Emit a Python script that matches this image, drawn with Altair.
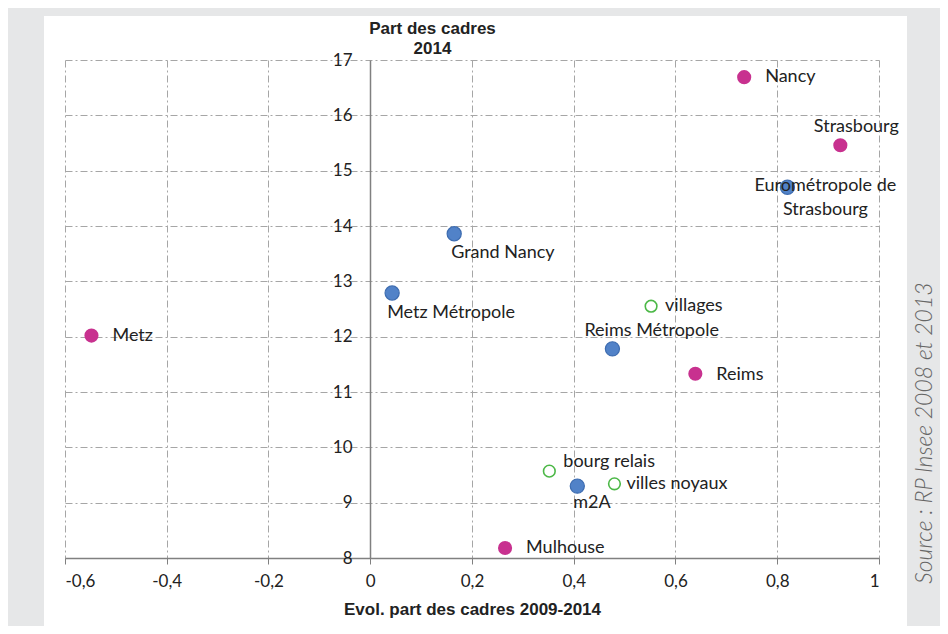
import altair as alt
import pandas as pd

# ---- data ----
names = ["Nancy", "Strasbourg", "Eurométropole de\nStrasbourg", "Grand Nancy",
         "Metz Métropole", "villages", "Metz", "Reims Métropole", "Reims",
         "bourg relais", "villes noyaux", "m2A", "Mulhouse"]
evol = [0.735, 0.924, 0.820, 0.165, 0.043, 0.552, -0.548, 0.476, 0.639,
        0.352, 0.480, 0.407, 0.265]
part = [16.69, 15.46, 14.70, 13.86, 12.79, 12.55, 12.02, 11.78, 11.33,
        9.57, 9.34, 9.30, 8.18]
groups = ["ville", "ville", "metropole", "metropole", "metropole", "espace",
          "ville", "metropole", "ville", "espace", "espace", "metropole", "ville"]
x_ticks = [-0.6, -0.4, -0.2, 0, 0.2, 0.4, 0.6, 0.8, 1]
y_ticks = [8, 9, 10, 11, 12, 13, 14, 15, 16, 17]
x_title = "Evol. part des cadres 2009-2014"
y_title = ["Part des cadres", "2014"]
source_text = "Source : RP Insee 2008 et 2013"

df = pd.DataFrame({"name": names, "evol": evol, "part": part, "group": groups})

# label placement (dx, dy, align)
placements = {
    "Nancy": (21, 0, "left"),
    "Strasbourg": (16, -18, "center"),
    "Eurométropole de\nStrasbourg": (38, -1, "center"),
    "Grand Nancy": (-3, 19, "left"),
    "Metz Métropole": (-5, 20, "left"),
    "villages": (14, 0, "left"),
    "Metz": (21, 0, "left"),
    "Reims Métropole": (-28, -18, "left"),
    "Reims": (21, 1, "left"),
    "bourg relais": (14, -9, "left"),
    "villes noyaux": (12, 0, "left"),
    "m2A": (-4, 17, "left"),
    "Mulhouse": (21, 0, "left"),
}

W, H = 814, 498
PAD = {"left": 57, "top": 52, "right": 61, "bottom": 68}
GRID = "#a6a6a6"
GREY_BG = "#e6e7e8"
LABEL_FONT = "Lato"

xenc = alt.X("evol:Q",
             scale=alt.Scale(domain=[-0.6, 1], nice=False, zero=False),
             axis=alt.Axis(values=x_ticks, grid=True, gridDash=[7, 3, 2, 3],
                           gridColor=GRID, gridWidth=1,
                           domainColor="#808080", domainWidth=1.5,
                           tickColor="#808080", tickSize=6, labelPadding=9,
                           labelExpr="replace(toString(datum.value), '.', ',')",
                           labelFont=LABEL_FONT, labelFontSize=17, labelColor="#222222",
                           title=x_title, titleFont="Liberation Sans",
                           titleFontWeight="bold", titleFontSize=17,
                           titleColor="#222222", titlePadding=12))
yenc = alt.Y("part:Q",
             scale=alt.Scale(domain=[8, 17], nice=False, zero=False),
             axis=alt.Axis(values=y_ticks, offset=-305, grid=True,
                           gridDash=[7, 3, 2, 3], gridColor=GRID, gridWidth=1,
                           domainColor="#808080", domainWidth=1.5, ticks=False,
                           labelPadding=18, labelFont=LABEL_FONT, labelFontSize=17,
                           labelColor="#222222",
                           title=y_title, titleAngle=0, titleX=62, titleY=-23,
                           titleBaseline="bottom", titleAlign="center",
                           titleFont="Liberation Sans", titleFontWeight="bold",
                           titleFontSize=17, titleLineHeight=20,
                           titleColor="#222222"))

base = alt.Chart(df).encode(x=xenc, y=yenc)

one = pd.DataFrame({"k": [0]})
frame_parts = [
    (-57, 875, -52, -44),   # top band
    (-57, -21, -52, 566),   # left band
    (842, 875, -52, 566),   # right band
]
frames = [
    alt.Chart(one).mark_rect(color=GREY_BG).encode(
        x=alt.value(a), x2=alt.value(b), y=alt.value(c), y2=alt.value(d))
    for a, b, c, d in frame_parts
]

villes = base.transform_filter(alt.datum.group == "ville").mark_point(
    filled=True, size=200, color="#c8318f", opacity=1)
metros = base.transform_filter(alt.datum.group == "metropole").mark_point(
    filled=True, size=200, fill="#5182c8", stroke="#3d6cb0", strokeWidth=1.2,
    opacity=1)
espaces = base.transform_filter(alt.datum.group == "espace").mark_point(
    filled=False, size=135, stroke="#4cb847", strokeWidth=1.6, opacity=1)

labels = []
for nm, (dx, dy, al) in placements.items():
    labels.append(
        base.transform_filter(alt.datum.name == nm).mark_text(
            dx=dx, dy=dy, align=al, baseline="middle", font=LABEL_FONT,
            fontSize=18, color="#222222", lineBreak="\n", lineHeight=24
        ).encode(text="name:N")
    )

source = alt.Chart(pd.DataFrame({"t": [source_text]})).mark_text(
    angle=270, align="center", baseline="middle", font=LABEL_FONT,
    fontStyle="italic", fontWeight=300, fontSize=23, color="#666666"
).encode(x=alt.value(860), y=alt.value(373), text="t:N")

chart = alt.layer(*frames, villes, metros, espaces, *labels, source).properties(
    width=W, height=H, background="white", padding=PAD,
    autosize=alt.AutoSizeParams(type="none")
).configure_view(stroke=None)

chart.save("out.html", embed_options={"renderer": "svg", "actions": False})
